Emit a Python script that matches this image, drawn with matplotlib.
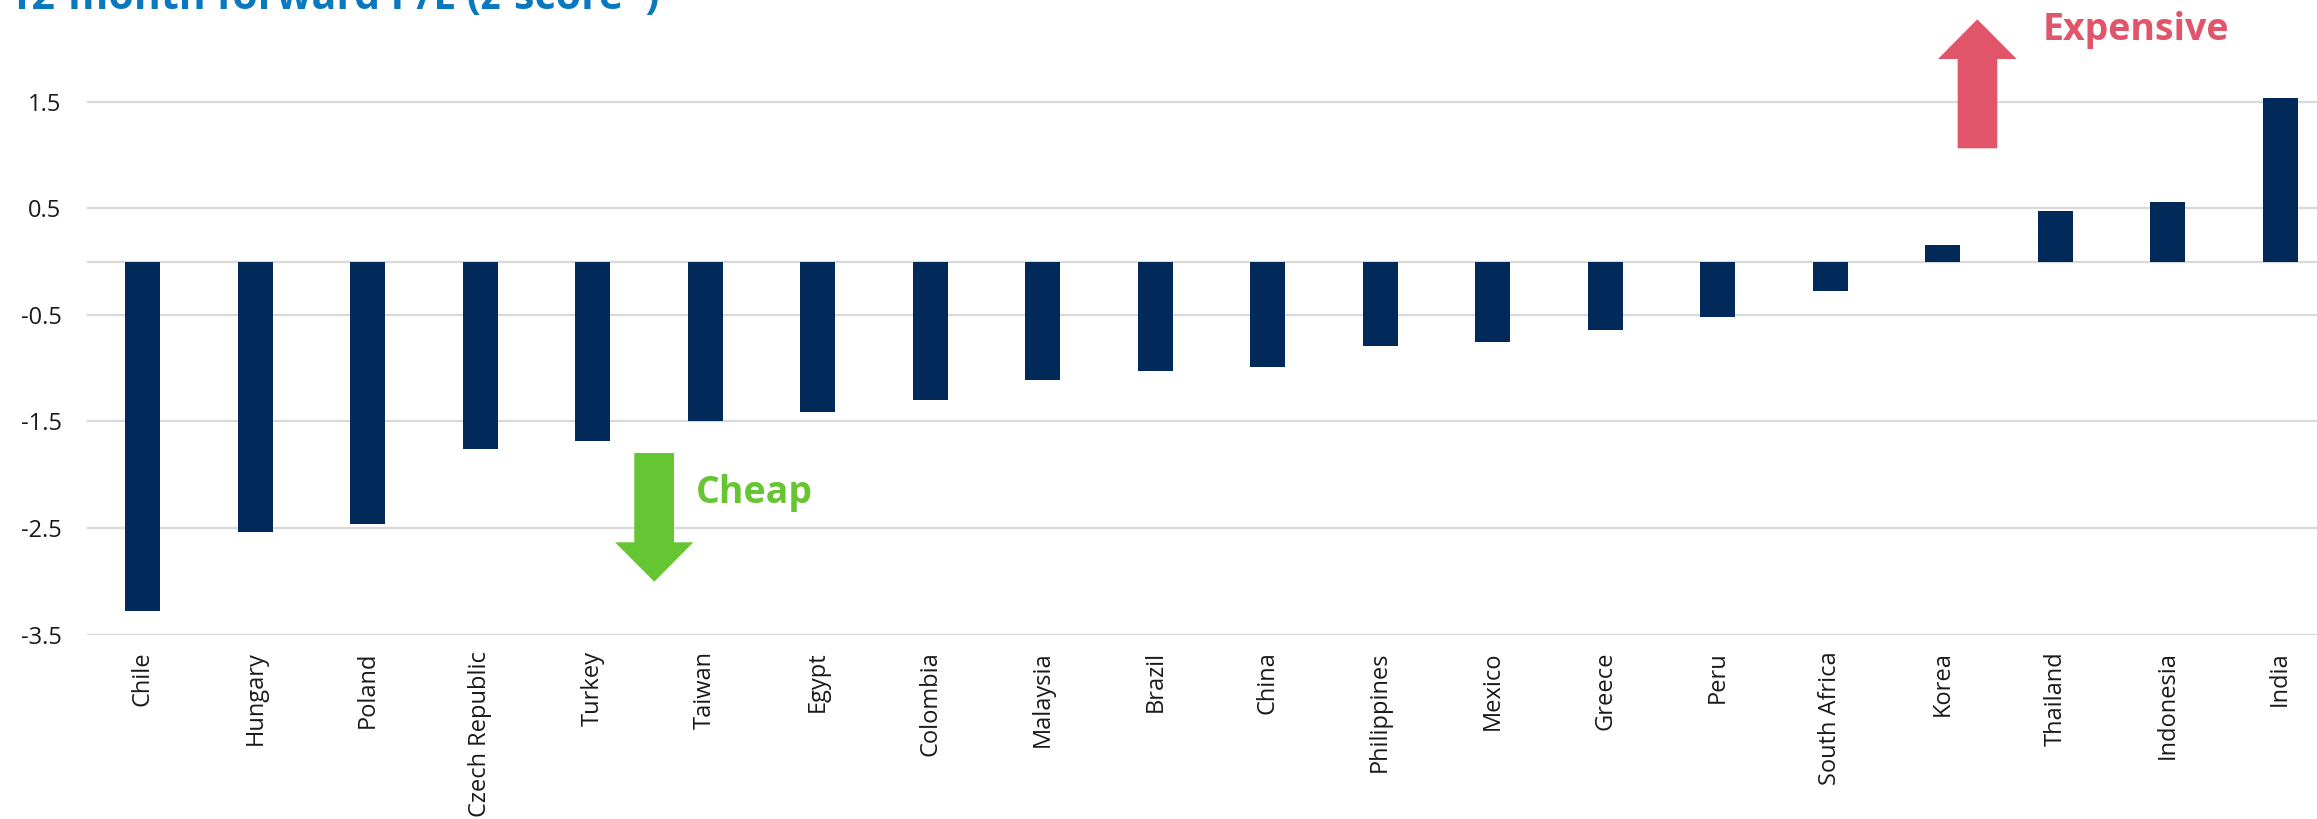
import matplotlib
matplotlib.use("Agg")
import matplotlib.pyplot as plt
from matplotlib.patches import Polygon
import numpy as np

plt.rcParams['font.family'] = ['Open Sans', 'DejaVu Sans']

countries = ["Chile", "Hungary", "Poland", "Czech Republic", "Turkey", "Taiwan",
             "Egypt", "Colombia", "Malaysia", "Brazil", "China", "Philippines",
             "Mexico", "Greece", "Peru", "South Africa", "Korea", "Thailand",
             "Indonesia", "India"]
zscores = [-3.28, -2.54, -2.46, -1.76, -1.68, -1.50, -1.41, -1.30, -1.11, -1.03,
           -0.99, -0.79, -0.75, -0.64, -0.52, -0.28, 0.16, 0.47, 0.56, 1.53]
yticks = [-3.5, -2.5, -1.5, -0.5, 0.5, 1.5]
title = "12-month forward P/E (z-score*)"

W, H = 2317, 819
fig = plt.figure(figsize=(W / 100, H / 100), dpi=100)

left_px, right_px = 86.5, 2317
top_px, bottom_px = 0, 634.7
ax = fig.add_axes([left_px / W, 1 - bottom_px / H, (right_px - left_px) / W,
                   (bottom_px - top_px) / H])

x = np.arange(len(countries))
ax.axhline(0, color='#d9d9d9', lw=1.6, zorder=1)
ax.bar(x, zscores, width=0.31, color='#012a5b', zorder=3)

ax.set_ylim(-3.5, 2.454)
ax.set_xlim(-0.5, (right_px - left_px) / 112.5 - 0.5)
ax.set_yticks(yticks)
ax.set_yticklabels([f"{v:.1f}" for v in yticks])
ax.yaxis.grid(True, color='#d9d9d9', lw=1.6, zorder=0)
ax.set_axisbelow(True)
for s in ax.spines.values():
    s.set_visible(False)
ax.tick_params(axis='y', length=0, pad=18, labelsize=17, labelcolor='#1a1a1a')
ax.tick_params(axis='x', length=0, pad=12, labelsize=17, labelcolor='#1a1a1a')
ax.set_xticks(x)
ax.set_xticklabels(countries, rotation=90, ha='center', va='top')


def px(pts):
    return [(px_x / W, 1 - px_y / H) for px_x, px_y in pts]


# Expensive arrow (up)
up = [(1957.7, 148.3), (1997.3, 148.3), (1997.3, 59), (2016.7, 59),
      (1977.3, 19.3), (1938, 59), (1957.7, 59)]
fig.patches.append(Polygon(px(up), closed=True, transform=fig.transFigure,
                           facecolor='#e0556a', edgecolor='none'))
fig.text(2043 / W, 1 - 40 / H, "Expensive", color='#e0556a', fontsize=27,
         fontweight='bold', ha='left', va='baseline')

# Cheap arrow (down)
down = [(634.3, 453), (674, 453), (674, 542.3), (693.3, 542.3),
        (654.3, 581.7), (615, 542.3), (634.3, 542.3)]
fig.patches.append(Polygon(px(down), closed=True, transform=fig.transFigure,
                           facecolor='#66c533', edgecolor='none'))
fig.text(695.7 / W, 1 - 502.7 / H, "Cheap", color='#66c533', fontsize=27,
         fontweight='bold', ha='left', va='baseline')

# Title (cropped at top, as in the reference)
fig.text(8 / W, 1 - 9 / H, title, color='#0a78bf', fontsize=29.5,
         fontweight='bold', ha='left', va='baseline')

fig.savefig("out.png", dpi=100)
